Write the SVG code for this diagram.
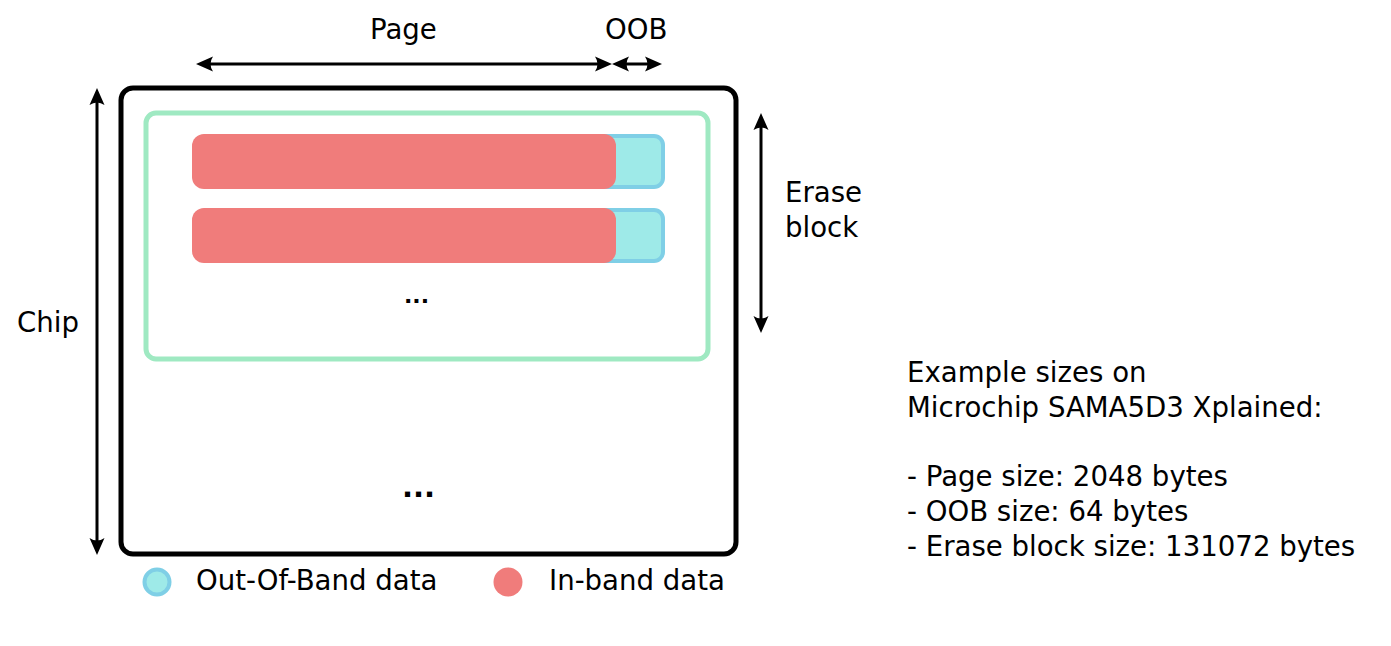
<svg xmlns="http://www.w3.org/2000/svg" width="1391" height="646" viewBox="0 0 1391 646">
<style>
text{font-family:"DejaVu Sans",sans-serif;font-size:27.6px;fill:#000}
.arr{stroke:#000;stroke-width:3;fill:none;marker-start:url(#ah);marker-end:url(#ah)}
.ib{fill:#f07c7b}
.oob{fill:#9eeae8;stroke:#7fcfe6;stroke-width:4}
</style>
<defs>
<marker id="ah" markerUnits="userSpaceOnUse" viewBox="-10 -10 20 20" refX="0" refY="0" markerWidth="20" markerHeight="20" orient="auto-start-reverse" overflow="visible">
<path d="M8,0 L-9,-7.5 Q-4,0 -9,7.5 Z" fill="#000"/>
</marker>
</defs>
<rect x="0" y="0" width="1391" height="646" fill="#fff"/>
<g id="chip">
<rect x="121" y="88" width="615" height="466" rx="12" fill="none" stroke="#000" stroke-width="5"/>
<text x="17" y="332">Chip</text>
<text x="402" y="497" style="font-weight:bold;font-size:29px">...</text>
</g>
<g id="erase-block">
<rect x="146" y="113" width="562" height="246" rx="10" fill="none" stroke="#9fe9c2" stroke-width="5"/>
<text x="404" y="303" style="font-weight:bold;font-size:22px">...</text>
<text x="785" y="202">Erase</text>
<text x="785" y="237">block</text>
</g>
<g id="page1">
<rect class="oob" x="580" y="136" width="83" height="51" rx="9"/>
<rect class="ib" x="192" y="134" width="424" height="55" rx="12"/>
</g>
<g id="page2">
<rect class="oob" x="580" y="210" width="83" height="51" rx="9"/>
<rect class="ib" x="192" y="208" width="424" height="55" rx="12"/>
</g>
<g id="labels">
<text x="370" y="39">Page</text>
<text x="605" y="39">OOB</text>
</g>
<g id="connectors">
<path class="arr" d="M204,64 H604"/>
<path class="arr" d="M620,64 H654"/>
<path class="arr" d="M97,96 V547"/>
<path class="arr" d="M761,121 V325"/>
</g>
<g id="legend">
<circle cx="157" cy="582" r="12.5" class="oob"/>
<text x="196" y="590">Out-Of-Band data</text>
<circle cx="508" cy="582" r="14.5" class="ib"/>
<text x="549" y="590">In-band data</text>
</g>
<g id="info">
<text x="907" y="382">Example sizes on</text>
<text x="907" y="417">Microchip SAMA5D3 Xplained:</text>
<text x="907" y="486">- Page size: 2048 bytes</text>
<text x="907" y="521">- OOB size: 64 bytes</text>
<text x="907" y="556">- Erase block size: 131072 bytes</text>
</g>
</svg>
